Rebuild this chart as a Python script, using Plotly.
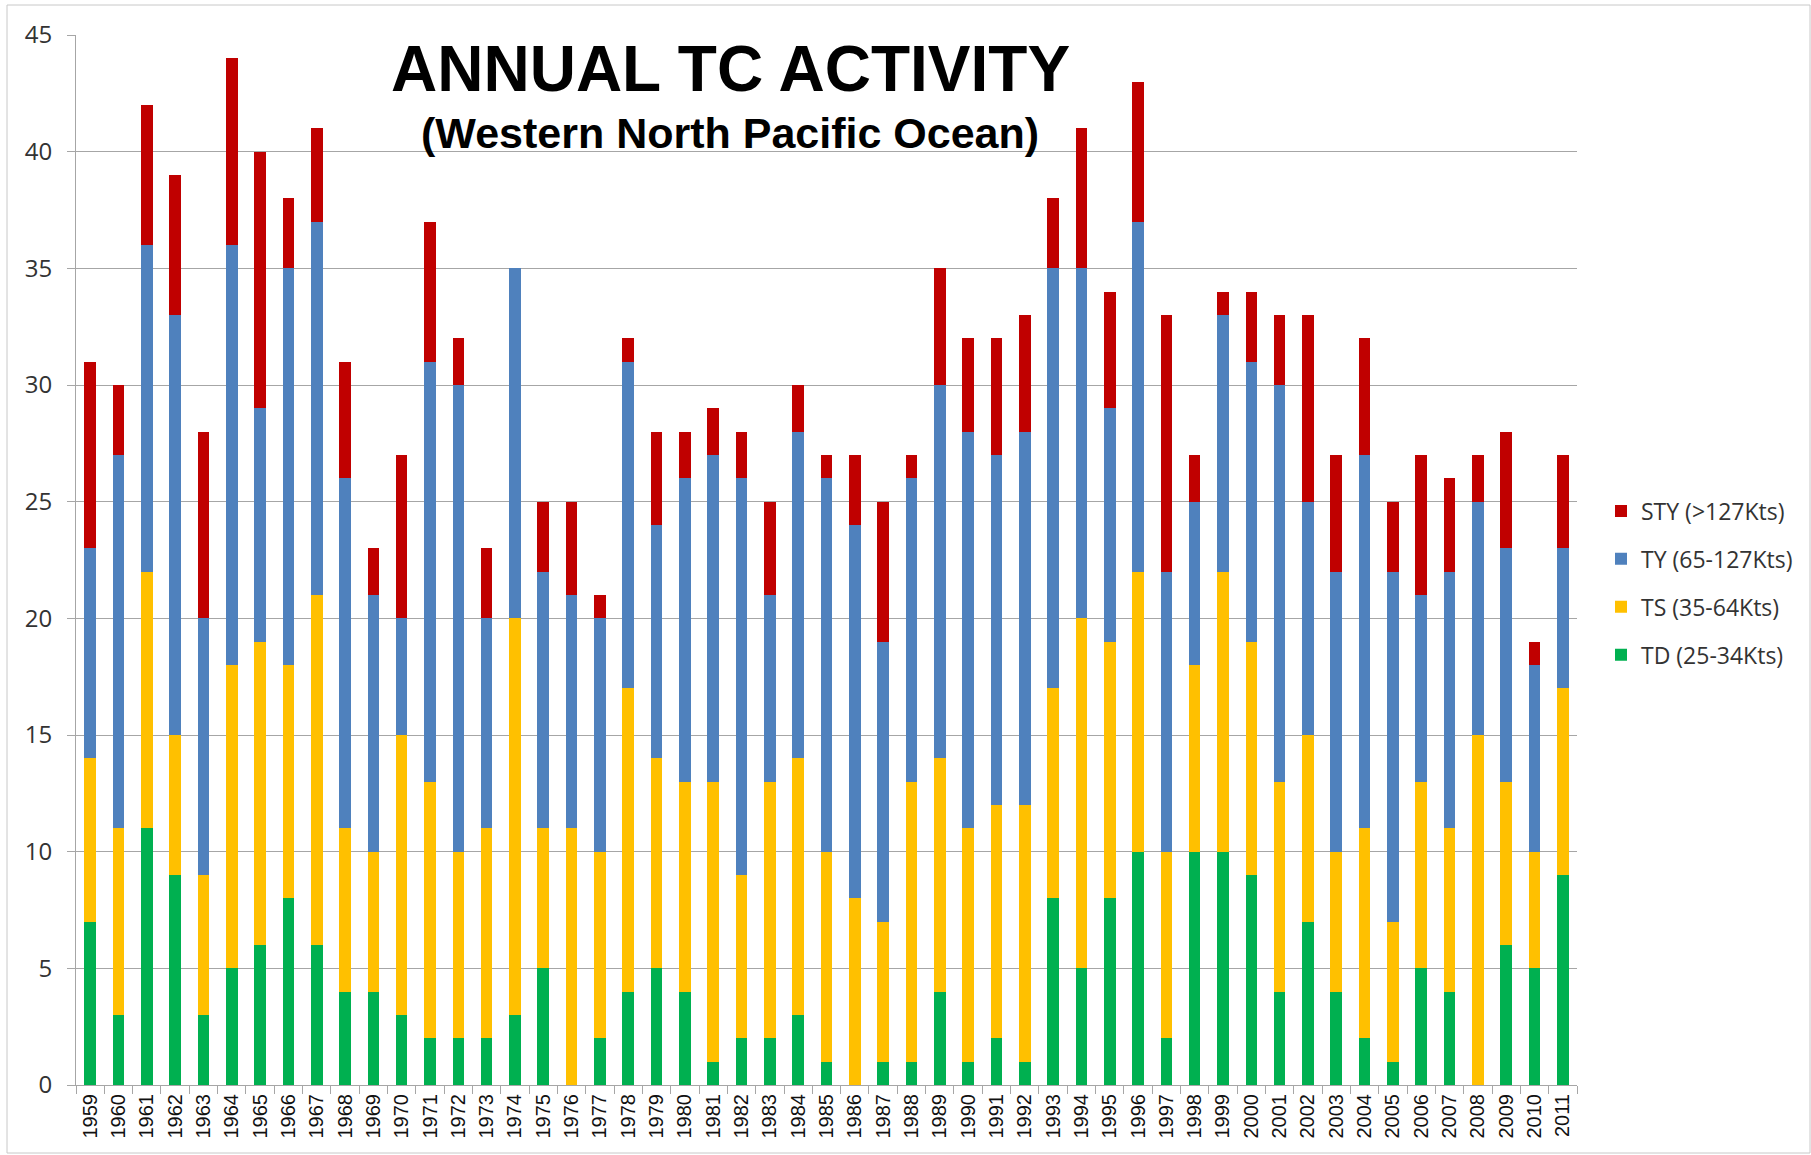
import plotly.graph_objects as go

years = [str(y) for y in range(1959, 2012)]

td = [7, 3, 11, 9, 3, 5, 6, 8, 6, 4, 4, 3, 2, 2, 2, 3, 5, 0, 2, 4,
      5, 4, 1, 2, 2, 3, 1, 0, 1, 1, 4, 1, 2, 1, 8, 5, 8, 10, 2, 10,
      10, 9, 4, 7, 4, 2, 1, 5, 4, 0, 6, 5, 9]
ts = [7, 8, 11, 6, 6, 13, 13, 10, 15, 7, 6, 12, 11, 8, 9, 17, 6, 11, 8, 13,
      9, 9, 12, 7, 11, 11, 9, 8, 6, 12, 10, 10, 10, 11, 9, 15, 11, 12, 8, 8,
      12, 10, 9, 8, 6, 9, 6, 8, 7, 15, 7, 5, 8]
ty = [9, 16, 14, 18, 11, 18, 10, 17, 16, 15, 11, 5, 18, 20, 9, 15, 11, 10, 10, 14,
      10, 13, 14, 17, 8, 14, 16, 16, 12, 13, 16, 17, 15, 16, 18, 15, 10, 15, 12, 7,
      11, 12, 17, 10, 12, 16, 15, 8, 11, 10, 10, 8, 6]
sty = [8, 3, 6, 6, 8, 8, 11, 3, 4, 5, 2, 7, 6, 2, 3, 0, 3, 4, 1, 1,
       4, 2, 2, 2, 4, 2, 1, 3, 6, 1, 5, 4, 5, 5, 3, 6, 5, 6, 11, 2,
       1, 3, 3, 8, 5, 5, 3, 6, 4, 2, 5, 1, 4]

series = [
    ("TD (25-34Kts)", td, "#00B050"),
    ("TS (35-64Kts)", ts, "#FFC000"),
    ("TY (65-127Kts)", ty, "#4F81BD"),
    ("STY (>127Kts)", sty, "#C00000"),
]

fig = go.Figure()
n = len(series)
for i, (name, vals, color) in enumerate(series):
    fig.add_trace(go.Bar(
        x=years, y=vals, name=name, legendgroup=name,
        legendrank=(n - i) * 10,
        marker=dict(color=color, line=dict(width=0)),
    ))

W, H = 1811, 1155
L, R, T, B = 76, 1577, 35, 1085

def px(x):
    return (x - L) / (R - L)

def py(y):
    return (B - y) / (B - T)

fig.update_layout(
    width=W, height=H,
    margin=dict(l=L, r=W - R, t=T, b=H - B, pad=0, autoexpand=False),
    barmode="stack", bargap=0.59,
    plot_bgcolor="white", paper_bgcolor="white",
    font=dict(family="Open Sans, Liberation Sans, Arial", color="#333333"),
    showlegend=True,
    legend=dict(
        x=px(1601), xanchor="left", y=py(583), yanchor="middle",
        traceorder="grouped", tracegroupgap=15,
        font=dict(family="Open Sans, Noto Sans", size=23, color="#333333"),
        bgcolor="rgba(0,0,0,0)", itemwidth=30,
    ),
    xaxis=dict(
        type="category", tickangle=-90, tickson="boundaries",
        ticks="outside", ticklen=8, tickcolor="#a6a6a6",
        showline=True, linecolor="#a6a6a6", linewidth=1,
        showgrid=False, automargin=False,
        tickfont=dict(family="Liberation Sans, Arial", size=20, color="#111111"),
    ),
    yaxis=dict(
        range=[0, 45], dtick=5, tick0=0,
        ticks="outside", ticklen=8, tickcolor="#a6a6a6",
        showline=True, linecolor="#a6a6a6", linewidth=1,
        showgrid=True, gridcolor="#a6a6a6", gridwidth=1,
        zeroline=False, automargin=False,
        ticklabelstandoff=10,
        tickfont=dict(family="Open Sans, Noto Sans", size=24, color="#333333"),
    ),
    shapes=[dict(
        type="rect", xref="paper", yref="paper",
        x0=px(7), x1=px(1810), y0=py(1153), y1=py(5),
        line=dict(color="#c8c8c8", width=1), fillcolor="rgba(0,0,0,0)",
        layer="below",
    )],
    annotations=[
        dict(text="<b>ANNUAL TC ACTIVITY</b>", xref="paper", yref="paper",
             x=px(730), y=py(69), xanchor="center", yanchor="middle",
             showarrow=False,
             font=dict(family="Liberation Sans, Arial", size=64, color="#000000")),
        dict(text="<b>(Western North Pacific Ocean)</b>", xref="paper", yref="paper",
             x=px(730), y=py(133), xanchor="center", yanchor="middle",
             showarrow=False,
             font=dict(family="Liberation Sans, Arial", size=43, color="#000000")),
    ],
)

fig.write_html(
    "out.html",
    config={"displayModeBar": False},
    post_script="document.body.style.margin='0';document.body.style.padding='0';",
)
